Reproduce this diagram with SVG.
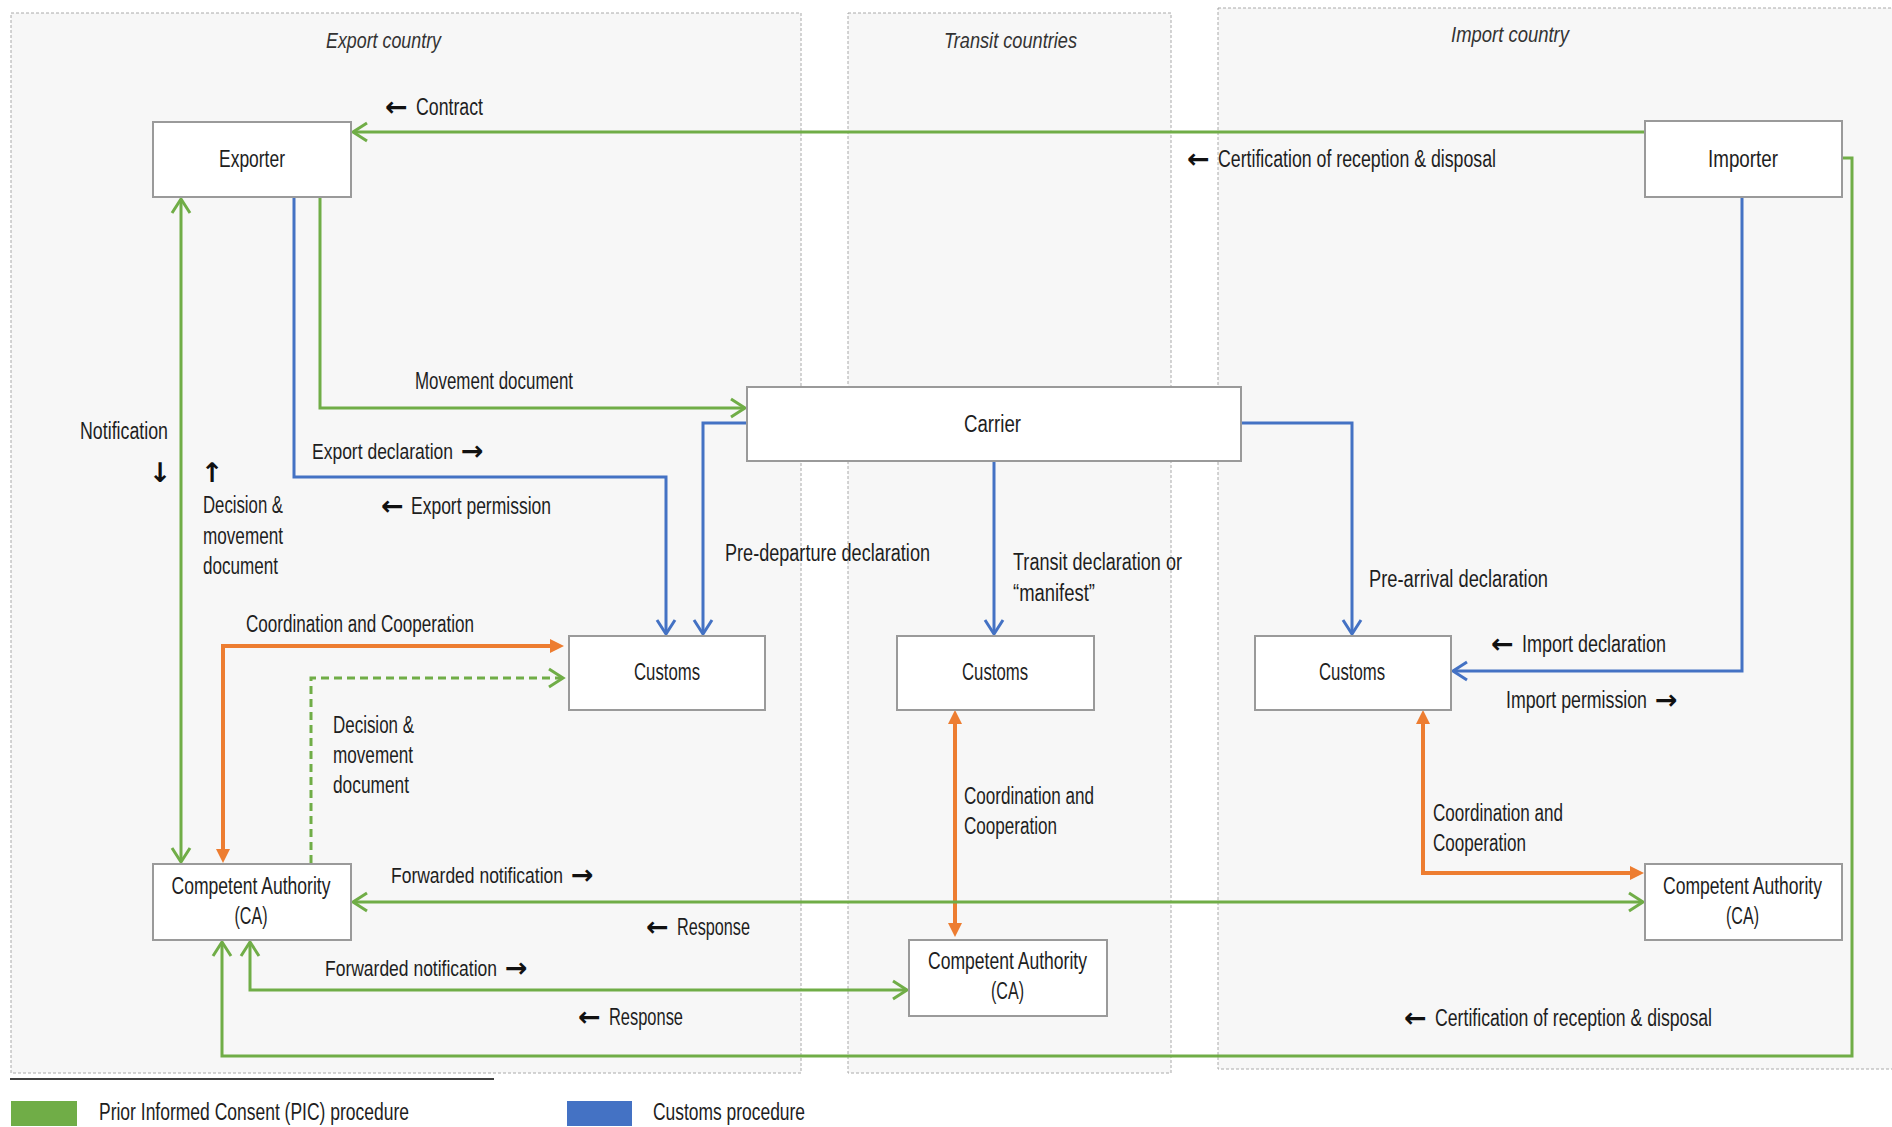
<svg xmlns="http://www.w3.org/2000/svg" width="1892" height="1127" viewBox="0 0 1892 1127">
<style>
.panel{fill:#f7f7f7;stroke:#aaaaaa;stroke-width:1;stroke-dasharray:3 2}
.box{fill:#ffffff;stroke:#9a9a9a;stroke-width:2}
.g{stroke:#70AD47;stroke-width:3;fill:none}
.b{stroke:#4472C4;stroke-width:3;fill:none}
.o{stroke:#ED7D31;stroke-width:4;fill:none}
.t{font-family:"Liberation Sans","DejaVu Sans",sans-serif;font-size:23px;fill:#1e1e1e}
.ti{font-family:"Liberation Sans","DejaVu Sans",sans-serif;font-size:22px;font-style:italic;fill:#333333}
.ar{font-family:"DejaVu Sans","Liberation Sans",sans-serif;font-size:27px;font-weight:bold;fill:#111111}
</style>
<defs>
<marker id="cg" viewBox="-18 -12 22 24" refX="0" refY="0" markerWidth="22" markerHeight="24" markerUnits="userSpaceOnUse" orient="auto-start-reverse" overflow="visible"><path d="M-14,-9 L0,0 L-14,9" fill="none" stroke="#70AD47" stroke-width="3"/></marker>
<marker id="cb" viewBox="-18 -12 22 24" refX="0" refY="0" markerWidth="22" markerHeight="24" markerUnits="userSpaceOnUse" orient="auto-start-reverse" overflow="visible"><path d="M-14,-9 L0,0 L-14,9" fill="none" stroke="#4472C4" stroke-width="3"/></marker>
<marker id="to" viewBox="-6 -9 18 18" refX="0" refY="0" markerWidth="18" markerHeight="18" markerUnits="userSpaceOnUse" orient="auto-start-reverse" overflow="visible"><path d="M-4,-7 L10,0 L-4,7 Z" fill="#ED7D31"/></marker>
</defs>

<g id="panels">
<rect class="panel" x="11" y="13" width="790" height="1060"/>
<rect class="panel" x="848" y="13" width="323" height="1060"/>
<rect class="panel" x="1218" y="8" width="700" height="1061"/>
<text class="ti" x="326" y="48" textLength="115" lengthAdjust="spacingAndGlyphs">Export country</text>
<text class="ti" x="944" y="48" textLength="133" lengthAdjust="spacingAndGlyphs">Transit countries</text>
<text class="ti" x="1451" y="42" textLength="118" lengthAdjust="spacingAndGlyphs">Import country</text>
</g>

<g id="connectors">
<path class="g" d="M1645,132 H353" marker-end="url(#cg)"/>
<path class="g" d="M320,198 V408 H745" marker-end="url(#cg)"/>
<path class="b" d="M294,198 V477 H666 V634" marker-end="url(#cb)"/>
<path class="b" d="M746,423 H703 V634" marker-end="url(#cb)"/>
<path class="g" d="M181,199 V862" marker-start="url(#cg)" marker-end="url(#cg)"/>
<path class="o" d="M223,853 V646 H554" marker-start="url(#to)" marker-end="url(#to)"/>
<path class="g" d="M311,863 V678 H563" stroke-dasharray="8 5" marker-end="url(#cg)"/>
<path class="b" d="M994,461 V634" marker-end="url(#cb)"/>
<path class="b" d="M1241,423 H1352 V634" marker-end="url(#cb)"/>
<path class="b" d="M1742,197 V671 H1453" marker-end="url(#cb)"/>
<path class="o" d="M955,720 V927" marker-start="url(#to)" marker-end="url(#to)"/>
<path class="o" d="M1423,720 V873 H1634" marker-start="url(#to)" marker-end="url(#to)"/>
<path class="g" d="M353,902 H1643" marker-start="url(#cg)" marker-end="url(#cg)"/>
<path class="g" d="M250,942 V990 H907" marker-start="url(#cg)" marker-end="url(#cg)"/>
<path class="g" d="M1842,158 H1852 V1056 H222 V942" marker-end="url(#cg)"/>
</g>

<g id="exporter">
<rect class="box" x="153" y="122" width="198" height="75"/>
<text class="t" x="219" y="167" textLength="66" lengthAdjust="spacingAndGlyphs">Exporter</text>
</g>
<g id="importer">
<rect class="box" x="1645" y="121" width="197" height="76"/>
<text class="t" x="1708" y="167" textLength="70" lengthAdjust="spacingAndGlyphs">Importer</text>
</g>
<g id="carrier">
<rect class="box" x="747" y="387" width="494" height="74"/>
<text class="t" x="964" y="432" textLength="57" lengthAdjust="spacingAndGlyphs">Carrier</text>
</g>
<g id="customs-export">
<rect class="box" x="569" y="636" width="196" height="74"/>
<text class="t" x="634" y="680" textLength="66" lengthAdjust="spacingAndGlyphs">Customs</text>
</g>
<g id="customs-transit">
<rect class="box" x="897" y="636" width="197" height="74"/>
<text class="t" x="962" y="680" textLength="66" lengthAdjust="spacingAndGlyphs">Customs</text>
</g>
<g id="customs-import">
<rect class="box" x="1255" y="636" width="196" height="74"/>
<text class="t" x="1319" y="680" textLength="66" lengthAdjust="spacingAndGlyphs">Customs</text>
</g>
<g id="ca-export">
<rect class="box" x="153" y="864" width="198" height="76"/>
<text class="t" x="171.5" y="894" textLength="159" lengthAdjust="spacingAndGlyphs">Competent Authority</text>
<text class="t" x="234.5" y="924" textLength="33" lengthAdjust="spacingAndGlyphs">(CA)</text>
</g>
<g id="ca-transit">
<rect class="box" x="909" y="940" width="198" height="76"/>
<text class="t" x="928" y="969" textLength="159" lengthAdjust="spacingAndGlyphs">Competent Authority</text>
<text class="t" x="991" y="999" textLength="33" lengthAdjust="spacingAndGlyphs">(CA)</text>
</g>
<g id="ca-import">
<rect class="box" x="1645" y="864" width="197" height="76"/>
<text class="t" x="1663" y="894" textLength="159" lengthAdjust="spacingAndGlyphs">Competent Authority</text>
<text class="t" x="1726" y="924" textLength="33" lengthAdjust="spacingAndGlyphs">(CA)</text>
</g>

<g id="labels">
<text class="ar" x="385" y="116">←</text>
<text class="t" x="416" y="115" textLength="67" lengthAdjust="spacingAndGlyphs">Contract</text>
<text class="ar" x="1187" y="168">←</text>
<text class="t" x="1218" y="167" textLength="278" lengthAdjust="spacingAndGlyphs">Certification of reception &amp; disposal</text>
<text class="t" x="415" y="389" textLength="158" lengthAdjust="spacingAndGlyphs">Movement document</text>
<text class="t" x="80" y="439" textLength="88" lengthAdjust="spacingAndGlyphs">Notification</text>
<text class="ar" x="160" y="482" text-anchor="middle">↓</text>
<text class="ar" x="212" y="482" text-anchor="middle">↑</text>
<text class="t" x="203" y="513" textLength="80" lengthAdjust="spacingAndGlyphs">Decision &amp;</text>
<text class="t" x="203" y="544" textLength="80" lengthAdjust="spacingAndGlyphs">movement</text>
<text class="t" x="203" y="574" textLength="75" lengthAdjust="spacingAndGlyphs">document</text>
<text class="t" x="312" y="459" style="font-size:17.5px" transform="matrix(1 0 0 1.314 0 -144.1)" textLength="141" lengthAdjust="spacingAndGlyphs">Export declaration</text>
<text class="ar" x="461" y="460">→</text>
<text class="ar" x="381" y="515">←</text>
<text class="t" x="411" y="514" textLength="140" lengthAdjust="spacingAndGlyphs">Export permission</text>
<text class="t" x="725" y="561" textLength="205" lengthAdjust="spacingAndGlyphs">Pre-departure declaration</text>
<text class="t" x="246" y="632" textLength="228" lengthAdjust="spacingAndGlyphs">Coordination and Cooperation</text>
<text class="t" x="333" y="733" textLength="81" lengthAdjust="spacingAndGlyphs">Decision &amp;</text>
<text class="t" x="333" y="763" textLength="80" lengthAdjust="spacingAndGlyphs">movement</text>
<text class="t" x="333" y="793" textLength="76" lengthAdjust="spacingAndGlyphs">document</text>
<text class="t" x="1013" y="570" textLength="169" lengthAdjust="spacingAndGlyphs">Transit declaration or</text>
<text class="t" x="1013" y="601" textLength="82" lengthAdjust="spacingAndGlyphs">“manifest”</text>
<text class="t" x="1369" y="587" textLength="179" lengthAdjust="spacingAndGlyphs">Pre-arrival declaration</text>
<text class="ar" x="1491" y="653">←</text>
<text class="t" x="1522" y="652" textLength="144" lengthAdjust="spacingAndGlyphs">Import declaration</text>
<text class="t" x="1506" y="708" style="font-size:17.7px" transform="matrix(1 0 0 1.3 0 -212.4)" textLength="141" lengthAdjust="spacingAndGlyphs">Import permission</text>
<text class="ar" x="1655" y="709">→</text>
<text class="t" x="964" y="804" textLength="130" lengthAdjust="spacingAndGlyphs">Coordination and</text>
<text class="t" x="964" y="834" textLength="93" lengthAdjust="spacingAndGlyphs">Cooperation</text>
<text class="t" x="1433" y="821" textLength="130" lengthAdjust="spacingAndGlyphs">Coordination and</text>
<text class="t" x="1433" y="851" textLength="93" lengthAdjust="spacingAndGlyphs">Cooperation</text>
<text class="t" x="391" y="883" style="font-size:17.5px" transform="matrix(1 0 0 1.314 0 -277.3)" textLength="172" lengthAdjust="spacingAndGlyphs">Forwarded notification</text>
<text class="ar" x="571" y="884">→</text>
<text class="ar" x="646" y="936">←</text>
<text class="t" x="677" y="935" textLength="73" lengthAdjust="spacingAndGlyphs">Response</text>
<text class="t" x="325" y="976" style="font-size:17.5px" transform="matrix(1 0 0 1.314 0 -306.5)" textLength="172" lengthAdjust="spacingAndGlyphs">Forwarded notification</text>
<text class="ar" x="505" y="977">→</text>
<text class="ar" x="578" y="1026">←</text>
<text class="t" x="609" y="1025" textLength="74" lengthAdjust="spacingAndGlyphs">Response</text>
<text class="ar" x="1404" y="1027">←</text>
<text class="t" x="1435" y="1026" textLength="277" lengthAdjust="spacingAndGlyphs">Certification of reception &amp; disposal</text>
</g>

<g id="legend">
<line x1="10" y1="1079" x2="494" y2="1079" stroke="#404040" stroke-width="2"/>
<rect x="11" y="1101" width="66" height="25" fill="#70AD47"/>
<text class="t" x="99" y="1120" textLength="310" lengthAdjust="spacingAndGlyphs">Prior Informed Consent (PIC) procedure</text>
<rect x="567" y="1101" width="65" height="25" fill="#4472C4"/>
<text class="t" x="653" y="1120" textLength="152" lengthAdjust="spacingAndGlyphs">Customs procedure</text>
</g>
</svg>
